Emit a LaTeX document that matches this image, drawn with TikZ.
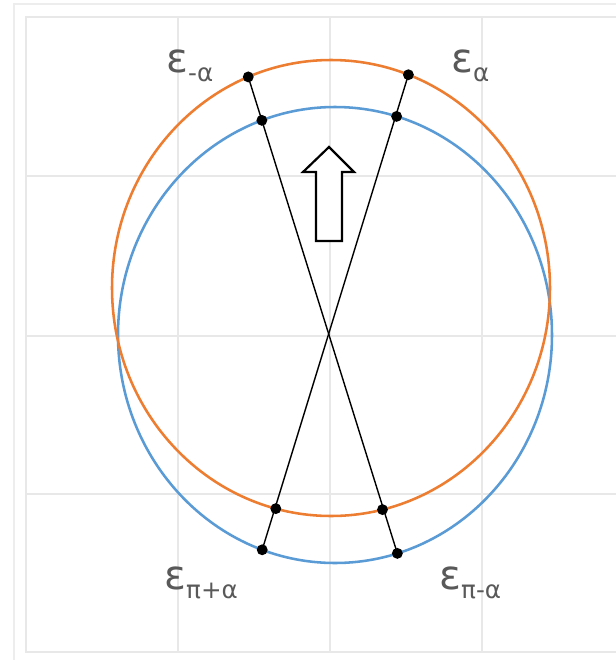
\documentclass[tikz,border=0pt]{standalone}
\usepackage{fontspec}
\setmainfont{DejaVu Sans}
\usetikzlibrary{calc}
\definecolor{curveorange}{HTML}{ED7D31}
\definecolor{curveblue}{HTML}{5B9BD5}
\definecolor{labelgray}{HTML}{595959}
\definecolor{gridgray}{HTML}{E8E8E8}
\newcommand{\epslabel}[1]{ε\raisebox{-5.5pt}{\fontsize{14}{14}\selectfont #1}}
\begin{document}
\begin{tikzpicture}[
    x=0.02cm, y=-0.02cm,
    grid/.style={draw=gridgray, line width=0.8pt},
    curve/.style={line width=1.45pt},
    ray/.style={draw=black, line width=0.8pt},
    dot/.style={circle, fill=black, inner sep=0pt, minimum size=6.2pt},
    eps/.style={text=labelgray, font=\fontsize{23}{26}\selectfont, inner sep=0pt, anchor=base west},
    hollow/.style={draw=black, line width=1.25pt, fill=white, line join=miter}
]
    \useasboundingbox (0,0) rectangle (616,660);
    \clip (0,0) rectangle (616,660);
    % --- Frames and grid ---
    \draw[gridgray!80, line width=0.8pt] (14,4) rectangle (700,700);
    \draw[gridgray, line width=0.8pt] (26,17) rectangle (700,652);
    \foreach \gx in {178,330,482} \draw[grid] (\gx,17) -- (\gx,652);
    \foreach \gy in {176,336,494} \draw[grid] (26,\gy) -- (700,\gy);

    % --- Curves ---
    \coordinate (bc) at (335,335);
    \coordinate (oc) at (331,288);
    \draw[curve, curveblue] (bc) ellipse [x radius=217, y radius=228];
    \draw[curve, curveorange] (oc) ellipse [x radius=219, y radius=228];

    % Points on the curves
    \coordinate (oTL) at ($(oc)+(-112.2:219 and 228)$);
    \coordinate (oTR) at ($(oc)+(-69.3:219 and 228)$);
    \coordinate (oBL) at ($(oc)+(104.6:219 and 228)$);
    \coordinate (oBR) at ($(oc)+(76.4:219 and 228)$);
    \coordinate (bTL) at ($(bc)+(-109.7:217 and 228)$);
    \coordinate (bTR) at ($(bc)+(-73.5:217 and 228)$);
    \coordinate (bBL) at ($(bc)+(109.6:217 and 228)$);
    \coordinate (bBR) at ($(bc)+(73.3:217 and 228)$);

    % --- Crossing rays ---
    \draw[ray] (oTL) -- (bBR);
    \draw[ray] (oTR) -- (bBL);
    \foreach \p in {oTL,oTR,oBL,oBR,bTL,bTR,bBL,bBR}
        \node[dot] (d\p) at (\p) {};

    % --- Hollow arrow ---
    \draw[hollow] (329,147) -- (354,172) -- (342,172) -- (342,241)
        -- (316,241) -- (316,172) -- (303,172) -- cycle;

    % --- Labels ---
    \node[eps] (lma) at (166,72) {\epslabel{-α}};
    \node[eps] (la) at (451,72) {\epslabel{α}};
    \node[eps] (lpa) at (164,589) {\epslabel{π+α}};
    \node[eps] (lpma) at (439,589) {\epslabel{π-α}};
\end{tikzpicture}
\end{document}
